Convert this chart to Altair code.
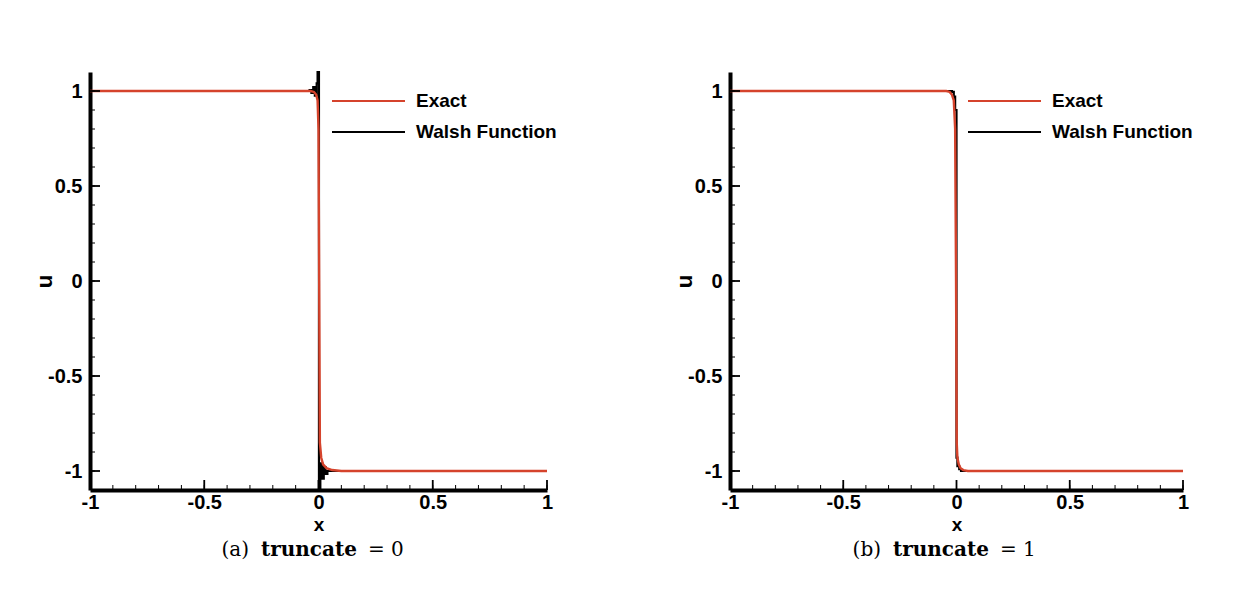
import altair as alt
import pandas as pd

# ---------------- data ----------------
# Exact solution (panel a)
xa_exact = [-1.0, -0.035, -0.02, -0.01, -0.004, 0.0, 0.003, 0.006, 0.012, 0.02, 0.035, 0.06, 0.1, 1.0]
ua_exact = [1.0, 1.0, 0.995, 0.98, 0.95, 0.8, 0.0, -0.85, -0.93, -0.965, -0.985, -0.995, -1.0, -1.0]
# Walsh function, truncate = 0 (panel a), piecewise constant
xa_walsh = [-1.0, -0.039, -0.031, -0.023, -0.016, -0.008, -0.004, 0.002, 0.008, 0.016, 0.023, 0.031, 0.039, 1.0]
ua_walsh = [1.0, 1.005, 0.99, 1.02, 0.975, 1.04, 1.1, -1.1, -0.96, -1.04, -0.98, -1.015, -1.0, -1.0]

# Exact solution (panel b)
xb_exact = [-1.0, -0.045, -0.03, -0.02, -0.012, -0.006, -0.002, 0.001, 0.004, 0.01, 0.018, 0.03, 0.05, 1.0]
ub_exact = [1.0, 1.0, 0.995, 0.98, 0.95, 0.8, 0.0, -0.85, -0.93, -0.965, -0.985, -0.995, -1.0, -1.0]
# Walsh function, truncate = 1 (panel b)
xb_walsh = [-1.0, -0.02, -0.012, -0.006, 0.0, 0.004, 0.012, 0.02, 1.0]
ub_walsh = [1.0, 0.995, 0.97, 0.9, -0.93, -0.975, -0.99, -1.0, -1.0]

major_ticks = [-1.0, -0.5, 0.0, 0.5, 1.0]
minor_ticks = [-1.0, -0.9, -0.8, -0.7, -0.6, -0.5, -0.4, -0.3, -0.2, -0.1, 0.0,
               0.1, 0.2, 0.3, 0.4, 0.5, 0.6, 0.7, 0.8, 0.9, 1.0]

series_names = ["Exact", "Walsh Function"]
series_colors = ["#d5432c", "#000000"]

RED, BLACK = series_colors
SANS = "Liberation Sans"
SERIF = "DejaVu Serif"
H = 418


def panel(xe, ue, xw, uw, W, letter, value, cap_center, legend_x):
    exact = pd.DataFrame({"x": xe, "u": ue})
    walsh = pd.DataFrame({"x": xw, "u": uw})
    xscale = alt.Scale(domain=[-1, 1], nice=False, zero=False)
    yscale = alt.Scale(domain=[-1.1, 1.1], nice=False, zero=False)

    xaxis = alt.Axis(values=major_ticks, labelExpr="'' + datum.value", ticks=False, grid=False,
                     domainWidth=4, domainColor="black", labelFont=SANS, labelFontWeight="bold",
                     labelFontSize=20, labelColor="black", labelPadding=2, labelFlush=False,
                     title="x", titleFont=SANS, titleFontWeight="bold", titleFontSize=19,
                     titleColor="black", titleY=40, titleBaseline="alphabetic")
    yaxis = alt.Axis(values=major_ticks, labelExpr="'' + datum.value", ticks=False, grid=False,
                     domainWidth=4, domainColor="black", labelFont=SANS, labelFontWeight="bold",
                     labelFontSize=20, labelColor="black", labelPadding=8,
                     title="u", titleFont=SANS, titleFontWeight="bold", titleFontSize=22,
                     titleColor="black", titleX=-46, titleY=H / 2, titleAlign="center",
                     titleBaseline="middle", titleAngle=270)

    walsh_line = alt.Chart(walsh).mark_line(interpolate="step-after", color=BLACK, strokeWidth=2.2).encode(
        x=alt.X("x:Q", scale=xscale, axis=xaxis),
        y=alt.Y("u:Q", scale=yscale, axis=yaxis),
    )
    exact_line = alt.Chart(exact).mark_line(color=RED, strokeWidth=2.4).encode(
        x=alt.X("x:Q", scale=xscale),
        y=alt.Y("u:Q", scale=yscale),
    )

    mj = pd.DataFrame({"x": major_ticks, "u": major_ticks})
    mn = pd.DataFrame({"x": minor_ticks, "u": minor_ticks})
    xt_major = alt.Chart(mj).mark_rule(color="black", strokeWidth=1.8).encode(
        x=alt.X("x:Q", scale=xscale), y=alt.value(H), y2=alt.value(H - 10))
    xt_minor = alt.Chart(mn).mark_rule(color="black", strokeWidth=1).encode(
        x=alt.X("x:Q", scale=xscale), y=alt.value(H), y2=alt.value(H - 5))
    yt_major = alt.Chart(mj).mark_rule(color="black", strokeWidth=1.8).encode(
        y=alt.Y("u:Q", scale=yscale), x=alt.value(0), x2=alt.value(10))
    yt_minor = alt.Chart(mn).mark_rule(color="black", strokeWidth=1).encode(
        y=alt.Y("u:Q", scale=yscale), x=alt.value(0), x2=alt.value(5))

    # legend (drawn inside plot)
    leg = []
    for i, (name, col) in enumerate(zip(series_names, series_colors)):
        yy = 29 + 31 * i
        leg.append(alt.Chart(pd.DataFrame({"n": [name]})).mark_rule(color=col, strokeWidth=2).encode(
            x=alt.value(legend_x), x2=alt.value(legend_x + 73), y=alt.value(yy)))
        leg.append(alt.Chart(pd.DataFrame({"n": [name]})).mark_text(
            align="left", baseline="middle", font=SANS, fontWeight="bold", fontSize=19, color="black"
        ).encode(text="n:N", x=alt.value(legend_x + 84), y=alt.value(yy)))

    # caption
    cy = 478
    cap = pd.DataFrame({"a": [f"({letter})"], "b": ["truncate"], "c": [f"= {value}"]})
    c1 = alt.Chart(cap).mark_text(align="right", baseline="middle", font=SERIF, fontSize=20,
                                  color="black").encode(text="a:N", x=alt.value(cap_center - 60), y=alt.value(cy))
    c2 = alt.Chart(cap).mark_text(align="center", baseline="middle", font=SERIF, fontSize=20,
                                  fontWeight="bold", color="black").encode(
        text="b:N", x=alt.value(cap_center), y=alt.value(cy))
    c3 = alt.Chart(cap).mark_text(align="left", baseline="middle", font=SERIF, fontSize=20,
                                  color="black").encode(text="c:N", x=alt.value(cap_center + 59), y=alt.value(cy))

    return alt.layer(walsh_line, exact_line, xt_major, xt_minor, yt_major, yt_minor,
                     *leg, c1, c2, c3).properties(width=W, height=H)


pa = panel(xa_exact, ua_exact, xa_walsh, ua_walsh, 457, "a", 0, 219, 242)
pb = panel(xb_exact, ub_exact, xb_walsh, ub_walsh, 453, "b", 1, 211, 238)

chart = alt.hconcat(pa, pb, spacing=116).properties(
    padding={"left": 33, "top": 67, "right": 0, "bottom": 0},
    background="white",
).configure_view(stroke=None)

chart.save("out.html", embed_options={"renderer": "svg", "actions": False})
